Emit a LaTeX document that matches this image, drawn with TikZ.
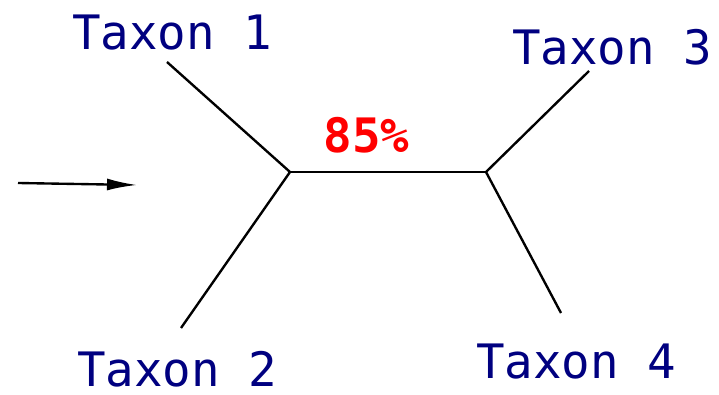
\documentclass[tikz,border=0pt]{standalone}
\usepackage{fontspec}
\setmonofont{DejaVu Sans Mono}
\setsansfont{DejaVu Sans}
\usetikzlibrary{arrows.meta}
\definecolor{TaxonBlue}{HTML}{000080}
\definecolor{SupportRed}{HTML}{FF0000}

\begin{document}
\begin{tikzpicture}[>={Latex[length=6mm,width=2.4mm]},line width=1.35pt]
      \useasboundingbox (0,0) rectangle (14.38,7.88);
      \tikzset{taxon/.style={text=TaxonBlue,anchor=base,inner sep=0pt,text depth=0pt,font=\fontsize{27}{30}\selectfont\ttfamily}}
      \coordinate (a) at (5.80,4.44);
      \coordinate (b) at (9.72,4.44);
      \coordinate (t1) at (3.34,6.64);
      \coordinate (t2) at (3.62,1.32);
      \coordinate (t3) at (11.78,6.46);
      \coordinate (t4) at (11.22,1.62);
      \coordinate (root) at (0.36,4.22);
      \coordinate (rootend) at (2.74,4.18);
      \node[taxon] (lab1) at (3.44,6.88) {Taxon 1};
      \node[taxon] (lab2) at (3.54,0.16) {Taxon 2};
      \node[taxon] (lab3) at (12.24,6.58) {Taxon 3};
      \node[taxon] (lab4) at (11.52,0.32) {Taxon 4};
      \node[text=SupportRed,anchor=base,inner sep=0pt,font=\fontsize{27}{30}\selectfont\ttfamily\bfseries] (support) at (7.33,4.82) {85\%};
      \draw (t1) -- (a) -- (t2);
      \draw (a) -- (b);
      \draw (t3) -- (b) -- (t4);
      \draw[->] (root) -- (rootend);
    \end{tikzpicture}
\end{document}
